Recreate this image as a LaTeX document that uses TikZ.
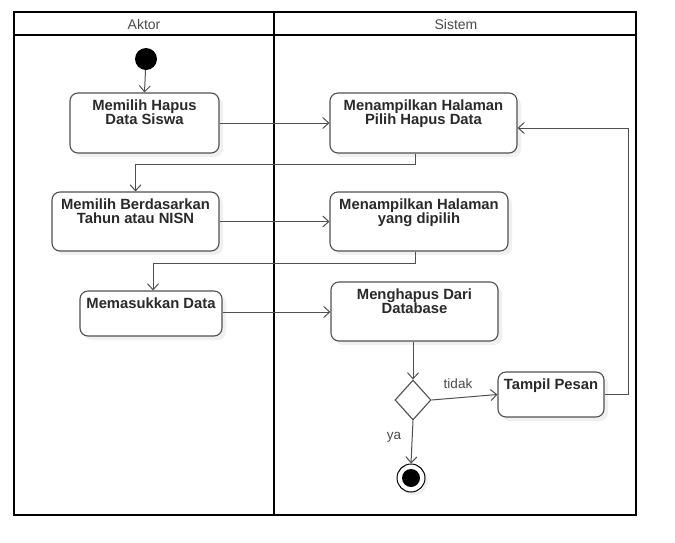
\documentclass[tikz,border=0pt]{standalone}
\usepackage{fontspec}
\setmainfont{Liberation Sans}
\usetikzlibrary{arrows.meta,shapes.geometric,shadows}
\definecolor{ln}{HTML}{505050}
\definecolor{tx}{HTML}{2A2A2A}
\begin{document}
\begin{tikzpicture}[x=1pt,y=-1pt,
  act/.style={draw=ln,line width=1.1pt,rounded corners=8pt,fill=white,
    drop shadow={opacity=0.12,shadow xshift=4pt,shadow yshift=-4pt},inner sep=0pt},
  acttext/.style={font=\fontsize{14.8}{14.5}\selectfont\bfseries,text=tx,align=center,inner sep=0pt,anchor=north},
  arr/.style={draw=ln,line width=1pt,-{Straight Barb[length=6pt,width=11pt]}},
  hdr/.style={font=\fontsize{14}{16}\selectfont,text=tx!85},
  lbl/.style={font=\fontsize{13.5}{15}\selectfont,text=tx!85}]
\useasboundingbox (0,0) rectangle (675,542);
% swimlane frame
\draw[line width=1.6pt] (14,12) rectangle (636,515);
\draw[line width=1.6pt] (14,35) -- (636,35);
\draw[line width=1.8pt] (274,12) -- (274,515);
\node[hdr] (hA) at (144,24) {Aktor};
\node[hdr] (hS) at (456,24) {Sistem};
% nodes
\node[circle,fill=black,minimum size=22pt,inner sep=0pt] (ini) at (146,59) {};
\node[act,minimum width=149pt,minimum height=60pt] (b1) at (144.5,123) {};
\node[acttext] (t1) at ([yshift=-7pt]b1.north) {Memilih Hapus\\Data Siswa};
\node[act,minimum width=167pt,minimum height=59pt] (b2) at (135.5,221.5) {};
\node[acttext] (t2) at ([yshift=-7pt]b2.north) {Memilih Berdasarkan\\Tahun atau NISN};
\node[act,minimum width=142pt,minimum height=45pt] (b3) at (151,313.5) {};
\node[acttext] (t3) at ([yshift=-7pt]b3.north) {Memasukkan Data};
\node[act,minimum width=187pt,minimum height=60pt] (b4) at (423.5,123) {};
\node[acttext] (t4) at ([yshift=-7pt]b4.north) {Menampilkan Halaman\\Pilih Hapus Data};
\node[act,minimum width=178pt,minimum height=59pt] (b5) at (419,221.5) {};
\node[acttext] (t5) at ([yshift=-7pt]b5.north) {Menampilkan Halaman\\yang dipilih};
\node[act,minimum width=167pt,minimum height=59pt] (b6) at (414.5,311.5) {};
\node[acttext] (t6) at ([yshift=-7pt]b6.north) {Menghapus Dari\\Database};
\node[act,minimum width=106pt,minimum height=45pt] (b7) at (551,394.5) {};
\node[acttext] (t7) at ([yshift=-7pt]b7.north) {Tampil Pesan};
\node[diamond,draw=ln,line width=1.1pt,fill=white,minimum width=36pt,minimum height=40pt,inner sep=0pt,aspect=0.9] (dia) at (413,400) {};
\node[circle,draw=black,line width=1pt,fill=white,minimum size=28pt,inner sep=0pt,
  drop shadow={opacity=0.12,shadow xshift=3pt,shadow yshift=-3pt}] (fin) at (411,478) {};
\node[circle,fill=black,minimum size=18pt,inner sep=0pt] (finin) at (fin) {};
\coordinate (ret) at (628,128);
% connectors
\draw[arr] (ini) -- (b1.north);
\draw[arr] (b1.east) -- (b1.east -| b4.west);
\draw[arr] ([xshift=-8.5pt]b4.south) -- ++(0,11) -| (b2.north);
\draw[arr] (b2.east) -- (b2.east -| b5.west);
\draw[arr] ([xshift=-4pt]b5.south) -- ++(0,12) -| ([xshift=2pt]b3.north);
\draw[arr] ([yshift=1.5pt]b3.east) -- ([yshift=1.5pt]b3.east -| b6.west);
\draw[arr] (b6.south -| dia.north) -- (dia.north);
\draw[arr] (dia.east) -- (b7.west);
\draw[arr] (dia.south) -- (fin.north);
\draw[arr] (b7.east) -| (ret) -- ([yshift=-5pt]b4.east);
\node[lbl] (ltidak) at (458,384) {tidak};
\node[lbl] (lya) at (394,437) {ya};
\end{tikzpicture}
\end{document}
